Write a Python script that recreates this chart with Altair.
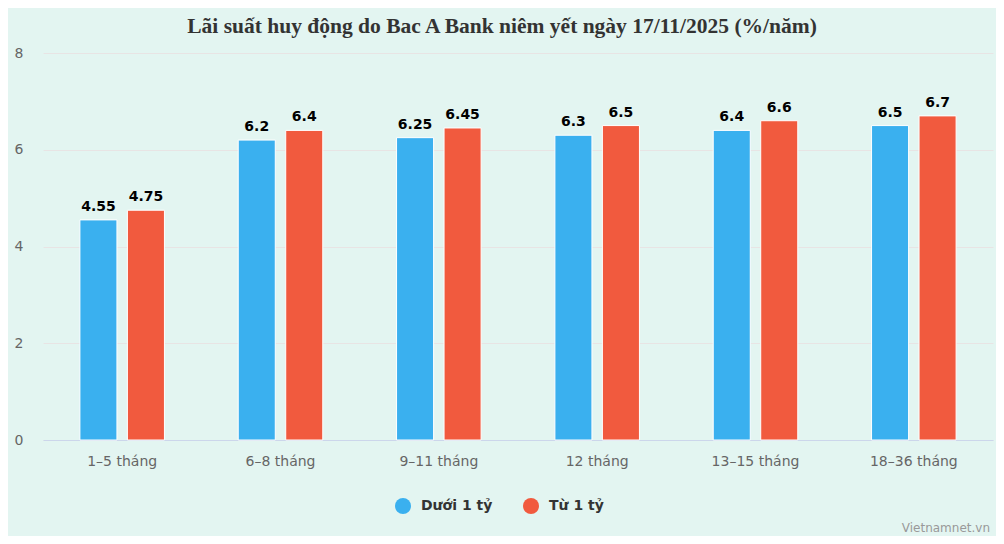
import altair as alt
import pandas as pd

categories = ["1–5 tháng", "6–8 tháng", "9–11 tháng", "12 tháng", "13–15 tháng", "18–36 tháng"]
duoi_1_ty = [4.55, 6.2, 6.25, 6.3, 6.4, 6.5]
tu_1_ty = [4.75, 6.4, 6.45, 6.5, 6.6, 6.7]
series_names = ["Dưới 1 tỷ", "Từ 1 tỷ"]
series_colors = ["#3AB0EF", "#F15A3E"]
y_ticks = [0, 2, 4, 6, 8]

rows = []
for c, a, b in zip(categories, duoi_1_ty, tu_1_ty):
    rows.append({"cat": c, "series": series_names[0], "value": a, "label": f"{a:g}"})
    rows.append({"cat": c, "series": series_names[1], "value": b, "label": f"{b:g}"})
df = pd.DataFrame(rows)

FONT = "DejaVu Sans"

x_enc = alt.X(
    "cat:N",
    sort=categories,
    scale=alt.Scale(paddingInner=0.4, paddingOuter=0.2),
    axis=alt.Axis(
        title=None, labelAngle=0, labelFont=FONT, labelFontSize=14,
        labelColor="#666666", labelPadding=14, ticks=False,
        domainColor="#ccd6eb", domainWidth=1, grid=False,
    ),
)
xoff_enc = alt.XOffset(
    "series:N", sort=series_names,
    scale=alt.Scale(paddingInner=0.22, paddingOuter=0.11),
)
y_enc = alt.Y(
    "value:Q",
    scale=alt.Scale(domain=[0, 8], nice=False),
    axis=alt.Axis(
        title=None, values=y_ticks, labelFont=FONT, labelFontSize=14,
        labelColor="#666666", labelPadding=20, ticks=False, domain=False,
        grid=True, gridColor="#e8e4e4", gridWidth=1,
    ),
)

bars = alt.Chart(df).mark_bar(stroke="white", strokeWidth=1).encode(
    x=x_enc,
    xOffset=xoff_enc,
    y=y_enc,
    color=alt.Color(
        "series:N",
        sort=series_names,
        scale=alt.Scale(domain=series_names, range=series_colors),
        legend=alt.Legend(
            title=None, orient="none", direction="horizontal",
            legendX=352, legendY=445,
            symbolType="circle", symbolSize=256, symbolStrokeWidth=0,
            labelFont=FONT, labelFontSize=14, labelFontWeight="bold",
            labelColor="#333333", labelOffset=10, columnPadding=30,
        ),
    ),
)

labels = alt.Chart(df).mark_text(
    baseline="bottom", dy=-6, font=FONT, fontSize=14, fontWeight="bold", color="#000000",
).encode(
    x=alt.X("cat:N", sort=categories),
    xOffset=alt.XOffset("series:N", sort=series_names),
    y="value:Q",
    text="label:N",
)

credit = alt.Chart(alt.Data(values=[{"t": "Vietnamnet.vn"}])).mark_text(
    align="right", baseline="middle", font=FONT, fontSize=12, color="#999999",
).encode(
    x=alt.value(947), y=alt.value(475), text="t:N",
)

chart = alt.layer(bars, labels, credit).properties(
    width=950,
    height=387,
    autosize=alt.AutoSizeParams(type="none"),
    padding={"left": 35, "top": 45, "right": 3, "bottom": 96},
    title=alt.TitleParams(
        "Lãi suất huy động do Bac A Bank niêm yết ngày 17/11/2025 (%/năm)",
        font="Liberation Serif", fontSize=21.5, fontWeight="bold", color="#333333",
        anchor="middle", dx=-16, offset=9,
    ),
).configure(background="#E3F5F1").configure_view(stroke=None)

chart.save("out.html", embed_options={"renderer": "svg", "actions": False})
